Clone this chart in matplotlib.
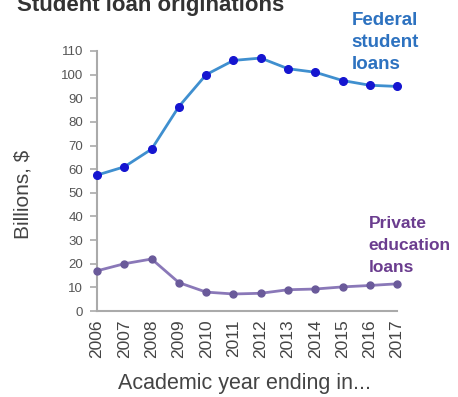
import matplotlib
matplotlib.use("Agg")
import matplotlib.pyplot as plt

plt.rcParams["font.family"] = ["Liberation Sans", "DejaVu Sans"]

years = [2006, 2007, 2008, 2009, 2010, 2011, 2012, 2013, 2014, 2015, 2016, 2017]
federal = [57.5, 61, 68.5, 86.5, 100, 106, 107, 102.5, 101, 97.5, 95.5, 95]
private = [17, 20, 22, 12, 8, 7.2, 7.5, 9, 9.3, 10.2, 10.8, 11.5]
yticks = list(range(0, 111, 10))

fig = plt.figure(figsize=(4.58, 3.97), dpi=100)
ax = fig.add_axes([0.212, 0.2166, 0.655, 0.655])

ax.plot(years, federal, color="#3f8fcf", lw=2, marker="o", ms=5.5,
        mfc="#1515d0", mec="#1515d0", clip_on=False, zorder=3)
ax.plot(years, private, color="#8a78b8", lw=2, marker="o", ms=5,
        mfc="#6a5a9a", mec="#6a5a9a", clip_on=False, zorder=3)

ax.set_xlim(2006, 2017)
ax.set_ylim(0, 110)
ax.set_yticks(yticks)
ax.set_xticks(years)
ax.set_xticklabels([str(y) for y in years], rotation=90)
for s in ["top", "right"]:
    ax.spines[s].set_visible(False)
for s in ["left", "bottom"]:
    ax.spines[s].set_color("#aaaaaa")
    ax.spines[s].set_linewidth(1.5)
ax.tick_params(axis="y", colors="#aaaaaa", labelcolor="#555555", labelsize=9.5, length=5, width=1.2, pad=5)
ax.tick_params(axis="x", length=0, labelcolor="#444444", labelsize=12.5, pad=6)

fig.text(23 / 458, 1 - 194 / 397, "Billions, $", rotation=90, fontsize=15,
         color="#444444", ha="center", va="center")
fig.text(245 / 458, 1 - 383 / 397, "Academic year ending in...", fontsize=15.5,
         color="#444444", ha="center", va="center")

fig.text(0.037, 0.972, "Student loan originations", fontsize=16, fontweight="bold",
         color="#333333", va="baseline", ha="left")
fig.text(0.768, 0.970, "Federal\nstudent\nloans", fontsize=13.5, fontweight="bold",
         color="#2d72c0", va="top", ha="left", linespacing=1.4)
fig.text(0.805, 0.455, "Private\neducation\nloans", fontsize=12.5, fontweight="bold",
         color="#6b3d8f", va="top", ha="left", linespacing=1.55)

fig.savefig("out.png", dpi=100)
